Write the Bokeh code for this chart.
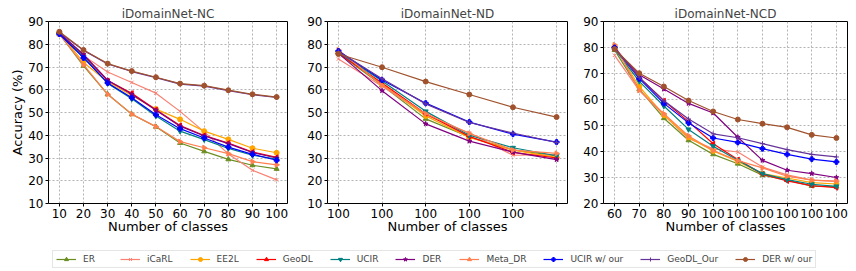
import math
from bokeh.plotting import figure
from bokeh.models import FixedTicker, Range1d, Legend, LegendItem
from bokeh.layouts import column, row
from bokeh.embed import file_html
from bokeh.resources import INLINE

FONT = "DejaVu Sans"

methods = ["ER", "iCaRL", "EE2L", "GeoDL", "UCIR", "DER", "Meta_DR",
           "UCIR w/ our", "GeoDL_Our", "DER w/ our"]
colors = ["#6b8e23", "#fa8072", "#ffa500", "#ff0000", "#008080", "#800080",
          "#ff7f50", "#0000ff", "#663399", "#a0522d"]
markers = ["triangle", "x", "circle", "triangle", "inverted_triangle", "star",
           "triangle", "plus", "cross", "circle"]
angles = [0, 0, 0, math.pi / 2, 0, 0, -math.pi / 2, 0, 0, 0]

# ---- iDomainNet-NC ----
nc_x = [10, 20, 30, 40, 50, 60, 70, 80, 90, 100]
nc_ER = [84.5, 70.5, 58.0, 49.2, 43.7, 36.6, 32.9, 29.4, 26.8, 25.2]
nc_iCaRL = [84.0, 75.0, 67.8, 63.2, 58.5, 50.5, 41.5, 31.8, 24.6, 20.4]
nc_EE2L = [85.0, 72.0, 63.5, 57.5, 51.5, 47.0, 41.8, 38.2, 34.3, 32.3]
nc_GeoDL = [85.0, 75.0, 64.0, 58.5, 51.2, 44.3, 39.9, 36.6, 32.6, 30.3]
nc_UCIR = [84.5, 74.5, 62.8, 56.0, 48.5, 41.8, 38.1, 34.2, 31.2, 29.5]
nc_DER = [85.0, 75.5, 64.2, 58.0, 51.0, 44.0, 39.7, 36.3, 32.4, 30.0]
nc_Meta_DR = [84.5, 71.0, 58.0, 49.3, 43.8, 37.2, 34.5, 31.9, 28.4, 27.0]
nc_UCIR_our = [84.5, 74.0, 63.0, 56.5, 49.0, 42.9, 38.8, 34.8, 31.6, 29.0]
nc_GeoDL_Our = [85.2, 77.3, 71.3, 68.0, 65.3, 62.5, 61.6, 59.6, 57.8, 56.6]
nc_DER_our = [85.5, 77.5, 71.5, 68.2, 65.5, 62.7, 61.8, 59.8, 58.0, 56.8]

# ---- iDomainNet-ND ----
nd_x = [0, 1, 2, 3, 4, 5]
nd_labels = ["100", "100", "100", "100", "100", ""]
nd_ER = [76.0, 62.0, 47.2, 39.2, 33.6, 30.9]
nd_iCaRL = [73.5, 61.5, 49.0, 41.0, 31.2, 31.5]
nd_EE2L = [76.5, 62.5, 48.5, 39.0, 33.5, 30.3]
nd_GeoDL = [76.0, 63.0, 49.5, 39.5, 32.5, 30.0]
nd_UCIR = [76.5, 63.8, 50.5, 40.0, 34.5, 31.0]
nd_DER = [76.0, 59.6, 45.0, 37.4, 32.6, 29.3]
nd_Meta_DR = [77.5, 62.0, 49.5, 40.8, 33.5, 32.0]
nd_UCIR_our = [77.0, 64.3, 54.1, 45.8, 40.5, 37.0]
nd_GeoDL_Our = [76.8, 64.8, 53.8, 45.6, 41.0, 36.8]
nd_DER_our = [75.7, 69.9, 63.6, 57.9, 52.3, 48.0]

# ---- iDomainNet-NCD ----
ncd_x = [0, 1, 2, 3, 4, 5, 6, 7, 8, 9]
ncd_labels = ["60", "70", "80", "90", "100", "100", "100", "100", "100", "100"]
ncd_ER = [79.0, 64.0, 52.8, 44.3, 38.9, 35.3, 30.9, 29.0, 26.7, 26.5]
ncd_iCaRL = [77.0, 63.5, 54.0, 45.0, 41.0, 39.8, 34.0, 31.0, 29.0, 28.5]
ncd_EE2L = [80.5, 65.0, 54.0, 45.5, 40.2, 36.2, 31.5, 29.8, 28.0, 27.5]
ncd_GeoDL = [80.0, 68.5, 59.5, 51.5, 43.0, 36.9, 31.3, 28.7, 26.9, 26.1]
ncd_UCIR = [79.5, 67.0, 57.5, 48.5, 42.0, 36.6, 31.5, 29.2, 27.4, 26.6]
ncd_DER = [79.5, 69.5, 64.0, 58.5, 54.8, 45.5, 36.6, 32.8, 31.5, 30.0]
ncd_Meta_DR = [81.0, 63.5, 54.5, 46.0, 40.4, 36.5, 33.7, 30.5, 29.0, 28.6]
ncd_UCIR_our = [80.0, 68.0, 58.5, 51.0, 45.2, 43.5, 41.1, 38.9, 37.1, 36.0]
ncd_GeoDL_Our = [79.5, 68.5, 59.5, 52.5, 46.8, 45.3, 43.0, 40.7, 38.9, 37.9]
ncd_DER_our = [79.4, 70.1, 65.0, 59.6, 55.4, 52.3, 50.7, 49.3, 46.4, 45.2]

nc_series = [nc_ER, nc_iCaRL, nc_EE2L, nc_GeoDL, nc_UCIR, nc_DER, nc_Meta_DR,
             nc_UCIR_our, nc_GeoDL_Our, nc_DER_our]
nd_series = [nd_ER, nd_iCaRL, nd_EE2L, nd_GeoDL, nd_UCIR, nd_DER, nd_Meta_DR,
             nd_UCIR_our, nd_GeoDL_Our, nd_DER_our]
ncd_series = [ncd_ER, ncd_iCaRL, ncd_EE2L, ncd_GeoDL, ncd_UCIR, ncd_DER, ncd_Meta_DR,
              ncd_UCIR_our, ncd_GeoDL_Our, ncd_DER_our]

nc_yticks = [10, 20, 30, 40, 50, 60, 70, 80, 90]
ncd_yticks = [20, 30, 40, 50, 60, 70, 80, 90]


def make_panel(title, xs, series, xr, yr, yticks, xlabels, w, left, right, ylabel=None):
    p = figure(width=w, height=238, x_range=Range1d(*xr),
               y_range=Range1d(*yr), output_backend="svg", toolbar_location=None,
               min_border_left=left, min_border_right=right, min_border_top=21,
               min_border_bottom=35, title=title)
    p.title.text_font = FONT
    p.title.text_font_size = "12px"
    p.title.text_font_style = "normal"
    p.title.align = "center"
    p.title.standoff = 1
    p.title.offset = 0
    p.outline_line_color = "black"
    p.outline_line_alpha = 1
    p.outline_line_width = 1
    p.background_fill_color = "white"
    p.border_fill_color = "white"
    for s, c, mk, a in zip(series, colors, markers, angles):
        p.line(xs, s, line_color=c, line_width=1.2)
        p.scatter(xs, s, marker=mk, size=5, angle=a, line_color=c, fill_color=c,
                  line_width=1)
    p.xaxis.ticker = FixedTicker(ticks=xs)
    if xlabels is not None:
        p.xaxis.major_label_overrides = {x: l for x, l in zip(xs, xlabels)}
    p.yaxis.ticker = FixedTicker(ticks=yticks)
    for ax in (p.xaxis, p.yaxis):
        ax.major_label_text_font = FONT
        ax.major_label_text_font_size = "12px"
        ax.major_label_text_color = "black"
        ax.axis_line_color = None
        ax.major_tick_out = 3
        ax.major_tick_in = 0
        ax.major_tick_line_color = "black"
        ax.minor_tick_line_color = None
        ax.major_label_standoff = 2
        ax.axis_label_text_font = FONT
        ax.axis_label_text_font_size = "13px"
        ax.axis_label_text_font_style = "normal"
        ax.axis_label_text_color = "black"
    p.xaxis.axis_label = "Number of classes"
    p.xaxis.axis_label_standoff = -2
    if ylabel:
        p.yaxis.axis_label = ylabel
        p.yaxis.axis_label_standoff = 0
    p.grid.grid_line_color = "#a0a0a0"
    p.grid.grid_line_dash = "2 2"
    p.grid.grid_line_width = 0.8
    return p


p1 = make_panel("iDomainNet-NC", nc_x, nc_series, (5.5, 104.5), (10, 90), nc_yticks,
                None, 297, 48, 10, ylabel="Accuracy (%)")
p2 = make_panel("iDomainNet-ND", nd_x, nd_series, (-0.25, 5.25), (10, 90), nc_yticks,
                nd_labels, 278, 30, 8)
p3 = make_panel("iDomainNet-NCD", ncd_x, ncd_series, (-0.45, 9.45), (20, 90), ncd_yticks,
                ncd_labels, 273, 28, 1)

# legend strip: renderers use the NC data, placed outside this strip's ranges
pl = figure(width=848, height=30, output_backend="svg", toolbar_location=None,
            min_border=0, x_range=Range1d(0, 1), y_range=Range1d(0, 1))
pl.axis.visible = False
pl.grid.visible = False
pl.outline_line_color = None
items = []
for m, s, c, mk, a in zip(methods, nc_series, colors, markers, angles):
    r1 = pl.line(nc_x, s, line_color=c, line_width=1.2)
    r2 = pl.scatter(nc_x, s, marker=mk, size=5, angle=a, line_color=c, fill_color=c)
    items.append(LegendItem(label=m, renderers=[r1, r2]))
legend = Legend(items=items, orientation="horizontal", location=(52, 0),
                label_text_font=FONT, label_text_font_size="9px",
                glyph_width=20, glyph_height=10, label_standoff=7, spacing=17,
                padding=3, margin=0, label_height=9,
                border_line_color="#cccccc", border_line_width=1,
                background_fill_color="white")
pl.add_layout(legend)

layout = column(row(p1, p2, p3), pl)
open("out.html", "w").write(file_html(layout, INLINE))
